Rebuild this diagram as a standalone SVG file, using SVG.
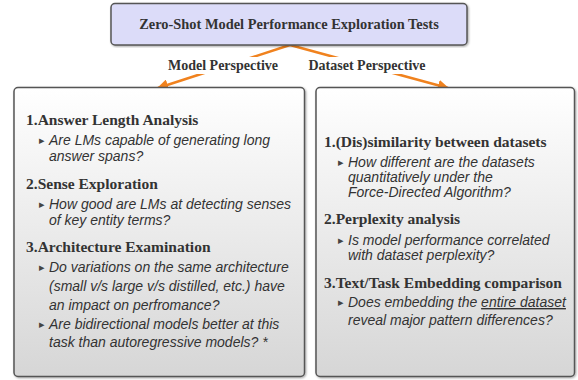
<svg xmlns="http://www.w3.org/2000/svg" width="578" height="380" viewBox="0 0 578 380">
<defs>
<linearGradient id="boxGrad" x1="0" y1="0" x2="0" y2="1">
<stop offset="0" stop-color="#ffffff"/>
<stop offset="1" stop-color="#d6d6d6"/>
</linearGradient>
<marker id="arr" viewBox="0 0 10 10" refX="9" refY="5" markerWidth="4.5" markerHeight="4.5" orient="auto" markerUnits="strokeWidth">
<path d="M0,0 L10,5 L0,10 z" fill="#f0821e"/>
</marker>
<filter id="sh" x="-5%" y="-5%" width="110%" height="110%">
<feDropShadow dx="1" dy="1" stdDeviation="0.8" flood-color="#000" flood-opacity="0.35"/>
</filter>
</defs>
<style>
.box{fill:url(#boxGrad);stroke:#555;stroke-width:1.5;filter:url(#sh)}
.head{font-family:"Liberation Serif",serif;font-weight:bold;font-size:15.5px;fill:#333}
.it{font-family:"Liberation Sans",Arial,sans-serif;font-style:italic;font-size:14px;fill:#333}
.bul{font-family:"DejaVu Sans",sans-serif;font-size:11px;fill:#444}
.lbl{font-family:"Liberation Serif",serif;font-weight:bold;font-size:14px;fill:#333}
.conn{stroke:#f0821e;stroke-width:2.5;fill:none}
</style>
<g id="connectors">
<line class="conn" x1="290" y1="45" x2="158" y2="88" marker-end="url(#arr)"/>
<line class="conn" x1="290" y1="45" x2="448" y2="88" marker-end="url(#arr)"/>
<rect x="165" y="57" width="117" height="17" fill="#fff"/>
<rect x="304" y="57" width="127" height="17" fill="#fff"/>
<text class="lbl" x="223" y="70" text-anchor="middle">Model Perspective</text>
<text class="lbl" x="367" y="70" text-anchor="middle">Dataset Perspective</text>
</g>
<g id="title">
<rect x="111" y="3.5" width="356" height="41.5" rx="4" fill="#dcdcf9" stroke="#555" stroke-width="1.5" filter="url(#sh)"/>
<text x="289" y="29" text-anchor="middle" style="font-family:'Liberation Serif',serif;font-weight:bold;font-size:14.4px;fill:#333">Zero-Shot Model Performance Exploration Tests</text>
</g>
<g id="model">
<rect class="box" x="14" y="87.5" width="290.5" height="289" rx="4"/>
<text class="head" x="26" y="125">1.Answer Length Analysis</text>
<text class="bul" x="39" y="144">▸</text>
<text class="it" x="49" y="145">Are LMs capable of generating long</text>
<text class="it" x="49" y="161">answer spans?</text>
<text class="head" x="26" y="189">2.Sense Exploration</text>
<text class="bul" x="39" y="208">▸</text>
<text class="it" x="49" y="209">How good are LMs at detecting senses</text>
<text class="it" x="49" y="225">of key entity terms?</text>
<text class="head" x="26" y="252">3.Architecture Examination</text>
<text class="bul" x="39" y="271">▸</text>
<text class="it" x="49" y="272">Do variations on the same architecture</text>
<text class="it" x="49" y="291">(small v/s large v/s distilled, etc.) have</text>
<text class="it" x="49" y="310">an impact on perfromance?</text>
<text class="bul" x="39" y="328">▸</text>
<text class="it" x="49" y="329">Are bidirectional models better at this</text>
<text class="it" x="49" y="347">task than autoregressive models? *</text>
</g>
<g id="dataset">
<rect class="box" x="316" y="87.5" width="258.5" height="289" rx="4"/>
<text class="head" x="324" y="147">1.(Dis)similarity between datasets</text>
<text class="bul" x="338" y="166">▸</text>
<text class="it" x="348" y="167">How different are the datasets</text>
<text class="it" x="348" y="182">quantitatively under the</text>
<text class="it" x="348" y="197">Force-Directed Algorithm?</text>
<text class="head" x="324" y="224">2.Perplexity analysis</text>
<text class="bul" x="338" y="244">▸</text>
<text class="it" x="348" y="245">Is model performance correlated</text>
<text class="it" x="348" y="260">with dataset perplexity?</text>
<text class="head" x="324" y="288">3.Text/Task Embedding comparison</text>
<text class="bul" x="338" y="306">▸</text>
<text class="it" x="348" y="307">Does embedding the <tspan text-decoration="underline">entire dataset</tspan></text>
<text class="it" x="348" y="325">reveal major pattern differences?</text>
</g>
</svg>
